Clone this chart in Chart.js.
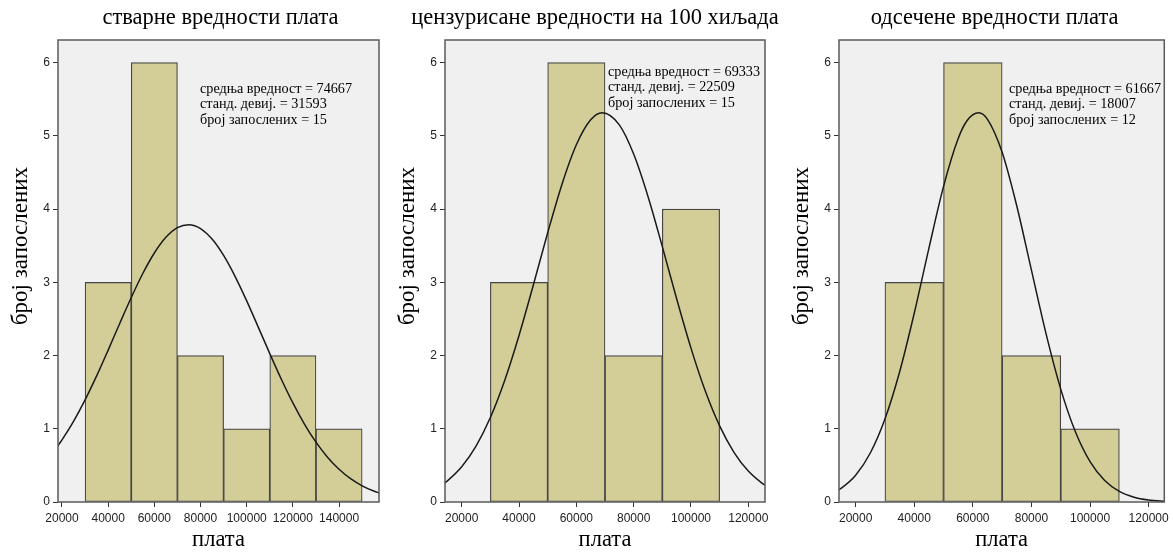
<!DOCTYPE html>
<html>
<head>
<meta charset="utf-8">
<script src="https://cdn.jsdelivr.net/npm/chart.js@4"></script>
<style>
  html, body { margin: 0; padding: 0; background: #ffffff; }
  body { width: 1173px; height: 552px; position: relative; overflow: hidden; }
  canvas { position: absolute; top: 0; }
</style>
</head>
<body>
<canvas id="c1" width="390" height="552" style="left:0px"></canvas>
<canvas id="c2" width="392" height="552" style="left:387px"></canvas>
<canvas id="c3" width="392" height="552" style="left:781px"></canvas>
<script>
// ---- data ----
const titles = ['стварне вредности плата', 'цензурисане вредности на 100 хиљада', 'одсечене вредности плата'];
const yAxisTitle = 'број запослених';
const xAxisTitle = 'плата';

const binCenters1 = [40000, 60000, 80000, 100000, 120000, 140000];
const counts1 = [3, 6, 2, 1, 2, 1];
const binCenters2 = [40000, 60000, 80000, 100000];
const counts2 = [3, 6, 2, 4];
const binCenters3 = [40000, 60000, 80000, 100000];
const counts3 = [3, 6, 2, 1];

const stats1 = ['средња вредност = 74667', 'станд. девиј. = 31593', 'број запослених = 15'];
const stats2 = ['средња вредност = 69333', 'станд. девиј. = 22509', 'број запослених = 15'];
const stats3 = ['средња вредност = 61667', 'станд. девиј. = 18007', 'број запослених = 12'];

const curveX1 = [18000, 20000, 25000, 30000, 35000, 40000, 45000, 50000, 55000, 60000, 65000, 70000, 75000, 80000, 85000, 90000, 95000, 100000, 105000, 110000, 115000, 120000, 125000, 130000, 135000, 140000, 145000, 150000, 155000, 158000];
const curveY1 = [0.758, 0.848, 1.101, 1.394, 1.722, 2.075, 2.438, 2.793, 3.121, 3.401, 3.615, 3.747, 3.788, 3.735, 3.591, 3.367, 3.079, 2.747, 2.389, 2.027, 1.677, 1.353, 1.065, 0.817, 0.612, 0.447, 0.318, 0.221, 0.150, 0.118];
const curveX2 = [14000, 15000, 20000, 25000, 30000, 35000, 40000, 45000, 50000, 55000, 60000, 65000, 69000, 75000, 80000, 85000, 90000, 95000, 100000, 105000, 110000, 115000, 120000, 125000, 126000];
const curveY2 = [0.259, 0.289, 0.482, 0.764, 1.155, 1.661, 2.275, 2.964, 3.677, 4.341, 4.879, 5.220, 5.317, 5.151, 4.752, 4.173, 3.488, 2.775, 2.102, 1.515, 1.039, 0.679, 0.422, 0.250, 0.224];
const curveX3 = [14000, 15000, 20000, 25000, 30000, 35000, 40000, 45000, 50000, 55000, 58000, 62000, 65000, 70000, 75000, 80000, 85000, 90000, 95000, 100000, 105000, 110000, 115000, 120000, 125000, 126000];
const curveY3 = [0.160, 0.185, 0.366, 0.669, 1.133, 1.776, 2.578, 3.465, 4.311, 4.965, 5.208, 5.316, 5.227, 4.777, 4.043, 3.166, 2.296, 1.542, 0.959, 0.551, 0.294, 0.145, 0.066, 0.028, 0.011, 0.009];

const xTicks1 = [20000, 40000, 60000, 80000, 100000, 120000, 140000];
const xTicks2 = [20000, 40000, 60000, 80000, 100000, 120000];
const xTicks3 = [20000, 40000, 60000, 80000, 100000, 120000];
const yTicks = [0, 1, 2, 3, 4, 5, 6];

const xRange1 = [18270, 157300];
const xRange2 = [14170, 125830];
const xRange3 = [14320, 125340];
const yRange = [0, 6.31];

// ---- styling ----
const SERIF = "'Liberation Serif', 'Times New Roman', serif";
const SANS = "'Liberation Sans', Arial, sans-serif";

const panelPlugin = {
  id: 'panelDeco',
  beforeDatasetsDraw(chart) {
    const a = chart.chartArea, ctx = chart.ctx;
    ctx.save();
    ctx.fillStyle = '#f0f0f0';
    ctx.fillRect(a.left, a.top, a.right - a.left, a.bottom - a.top);
    ctx.restore();
  },
  afterDraw(chart, args, opts) {
    const a = chart.chartArea, ctx = chart.ctx;
    const cxm = (a.left + a.right) / 2;
    ctx.save();
    ctx.strokeStyle = '#5a5a5a';
    ctx.lineWidth = 1.5;
    ctx.strokeRect(a.left, a.top, a.right - a.left, a.bottom - a.top);
    ctx.fillStyle = '#000';
    ctx.textAlign = 'center';
    ctx.textBaseline = 'middle';
    // chart title
    ctx.font = '22.5px ' + SERIF;
    ctx.fillText(opts.title, cxm + opts.titleDx, 18);
    // x axis title
    ctx.font = '22.5px ' + SERIF;
    ctx.fillText(xAxisTitle, cxm, 540);
    // y axis title
    ctx.translate(a.left - 37, 246);
    ctx.rotate(-Math.PI / 2);
    ctx.font = '23px ' + SERIF;
    ctx.fillText(yAxisTitle, 0, 0);
    ctx.restore();
    // stats text
    ctx.save();
    ctx.fillStyle = '#000';
    ctx.font = '14.2px ' + SERIF;
    ctx.textAlign = 'left';
    ctx.textBaseline = 'middle';
    opts.lines.forEach((t, i) => ctx.fillText(t, a.left + opts.dx, opts.y + i * opts.lh));
    ctx.restore();
  }
};

function makeChart(id, title, titleDx, centers, counts, cx, cy, xr, xt, padRight, stats, statDx, statY) {
  const barData = centers.map((c, i) => ({ x: c, y: counts[i] }));
  const lineData = cx.map((x, i) => ({ x: x, y: cy[i] }));
  return new Chart(document.getElementById(id), {
    type: 'bar',
    data: {
      datasets: [
        {
          type: 'line',
          data: lineData,
          borderColor: '#1a1a1a',
          borderWidth: 1.5,
          pointRadius: 0,
          cubicInterpolationMode: 'monotone',
          fill: false
        },
        {
          type: 'bar',
          data: barData,
          backgroundColor: '#d3ce98',
          borderColor: '#454545',
          borderWidth: 1.2,
          borderSkipped: false,
          barPercentage: 1,
          categoryPercentage: 1
        }
      ]
    },
    options: {
      responsive: false,
      animation: false,
      events: [],
      layout: { padding: { left: 0, right: padRight, top: 40, bottom: 0 } },
      plugins: {
        legend: { display: false },
        tooltip: { enabled: false },
        title: { display: false },
        panelDeco: { title: title, titleDx: titleDx, lines: stats, dx: statDx, y: statY, lh: 15.5 }
      },
      scales: {
        x: {
          type: 'linear',
          offset: false,
          min: xr[0],
          max: xr[1],
          afterFit: s => { s.height = 50; },
          afterBuildTicks: s => { s.ticks = xt.map(v => ({ value: v })); },
          border: { display: false },
          grid: { offset: false, drawOnChartArea: false, drawTicks: true, tickLength: 5, color: '#333' },
          ticks: {
            maxRotation: 0,
            autoSkip: false,
            padding: 4,
            color: '#222',
            font: { family: SANS, size: 12 },
            callback: v => String(v)
          }
        },
        y: {
          type: 'linear',
          min: yRange[0],
          max: yRange[1],
          afterFit: s => { s.width = 58; },
          afterBuildTicks: s => { s.ticks = yTicks.map(v => ({ value: v })); },
          border: { display: false },
          grid: { drawOnChartArea: false, drawTicks: true, tickLength: 5, color: '#333' },
          ticks: {
            autoSkip: false,
            padding: 3,
            color: '#222',
            font: { family: SANS, size: 12 },
            callback: v => String(v)
          }
        }
      }
    },
    plugins: [panelPlugin]
  });
}

makeChart('c1', titles[0], 2, binCenters1, counts1, curveX1, curveY1, xRange1, xTicks1, 11, stats1, 142, 89);
makeChart('c2', titles[1], -10, binCenters2, counts2, curveX2, curveY2, xRange2, xTicks2, 14, stats2, 163, 72);
makeChart('c3', titles[2], -7, binCenters3, counts3, curveX3, curveY3, xRange3, xTicks3, 7, stats3, 170, 89);
</script>
</body>
</html>
